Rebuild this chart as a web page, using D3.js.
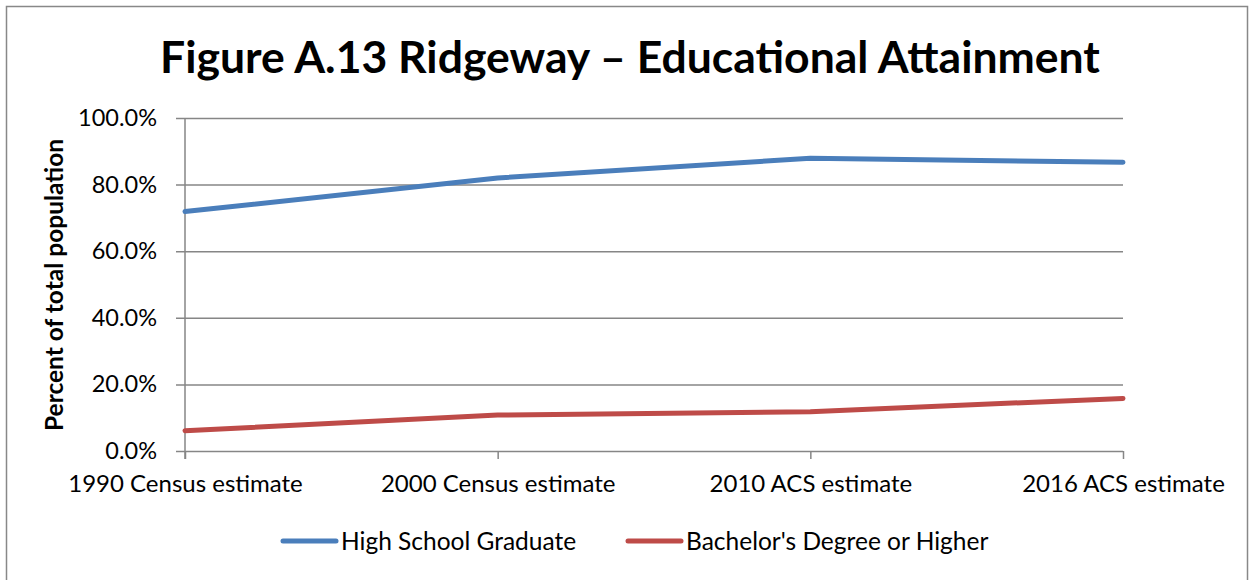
<!DOCTYPE html>
<html><head><meta charset="utf-8">
<script src="https://cdn.jsdelivr.net/npm/d3@7"></script>
<style>body{margin:0;background:#fff}svg{display:block}text{font-family:Lato,"Open Sans",sans-serif}</style>
</head><body><svg id="c" width="1254" height="580"></svg>
<script>
const categories = ["1990 Census estimate","2000 Census estimate","2010 ACS estimate","2016 ACS estimate"];
const highSchool = [71.9, 82.0, 87.9, 86.7];
const bachelor = [6.1, 10.8, 11.8, 15.8];
const yTicks = [0,20,40,60,80,100];
const seriesNames = ["High School Graduate","Bachelor's Degree or Higher"];
const seriesColors = ["#4a7ebb","#be4b48"];

const svg = d3.select("#c");
svg.append("rect").attr("x",6.5).attr("y",6.5).attr("width",1241).attr("height",580).attr("fill","#fff").attr("stroke","#888").attr("stroke-width",1.5);

const x = d3.scalePoint().domain(categories).range([185,1123]);
const y = d3.scaleLinear().domain([0,100]).range([451,118]);

// gridlines + y axis
const yAxis = d3.axisLeft(y).tickValues(yTicks).tickSize(-(1123-176)).tickPadding(19).tickFormat(d=>d.toFixed(1)+"%");
const gy = svg.append("g").attr("transform","translate(176,0)").call(yAxis);
gy.select(".domain").remove();
gy.selectAll(".tick line").attr("stroke","#868686").attr("stroke-width",1.5);
gy.selectAll(".tick text").attr("font-size",23.5).attr("fill","#000");

// y axis line
svg.append("line").attr("x1",185).attr("x2",185).attr("y1",118).attr("y2",459).attr("stroke","#868686").attr("stroke-width",1.5);

// x axis
const xAxis = d3.axisBottom(x).tickSize(8).tickPadding(16);
const gx = svg.append("g").attr("transform","translate(0,451)").call(xAxis);
gx.select(".domain").remove();
gx.selectAll(".tick line").attr("stroke","#868686").attr("stroke-width",1.5);
gx.selectAll(".tick text").attr("font-size",24).attr("fill","#000");

// lines
const line = d3.line().x((d,i)=>x(categories[i])).y(d=>y(d));
[highSchool,bachelor].forEach((s,k)=>{
  svg.append("path").datum(s).attr("d",line).attr("fill","none").attr("stroke",seriesColors[k]).attr("stroke-width",5).attr("stroke-linecap","round").attr("stroke-linejoin","round");
});

// title
svg.append("text").attr("x",630).attr("y",73).attr("text-anchor","middle").attr("font-size",44.5).attr("font-weight","bold").attr("fill","#000").text("Figure A.13 Ridgeway – Educational Attainment");

// y title
svg.append("text").attr("transform","translate(63,285) rotate(-90)").attr("text-anchor","middle").attr("font-size",24.5).attr("font-weight","bold").attr("fill","#000").text("Percent of total population");

// legend
const legX = [283,628];
seriesNames.forEach((n,k)=>{
  svg.append("line").attr("x1",legX[k]).attr("x2",legX[k]+53).attr("y1",541).attr("y2",541).attr("stroke",seriesColors[k]).attr("stroke-width",5).attr("stroke-linecap","round");
  svg.append("text").attr("x",legX[k]+58).attr("y",550).attr("font-size",24.5).attr("fill","#000").text(n);
});
</script></body></html>
